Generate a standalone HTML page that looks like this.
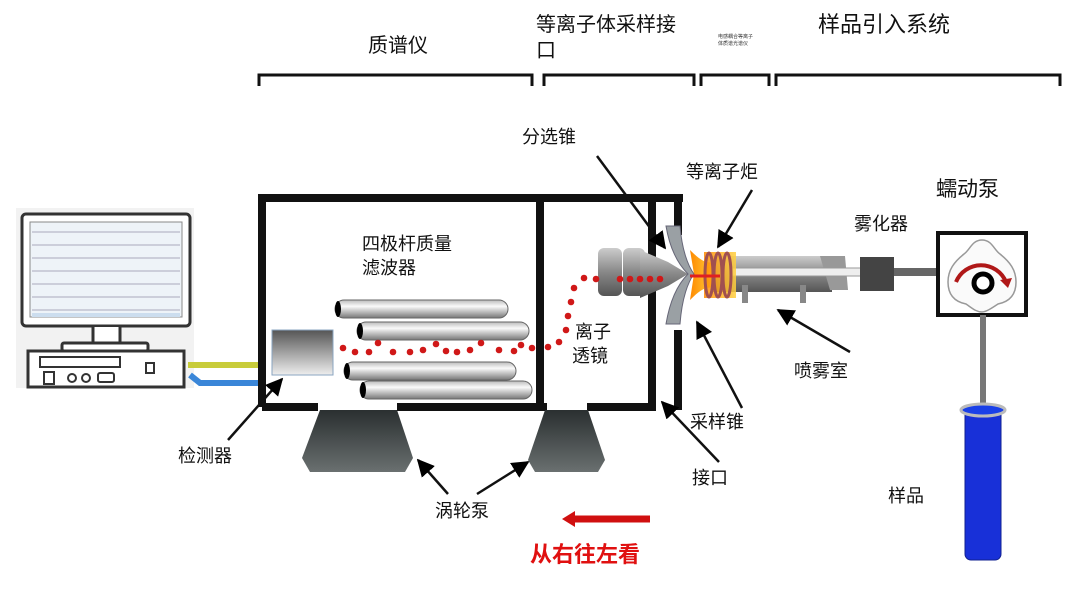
<!DOCTYPE html>
<html><head><meta charset="utf-8"><style>
html,body{margin:0;padding:0;background:#fff;}
svg{display:block;font-family:"Liberation Sans","Noto Sans CJK SC",sans-serif;}
</style></head><body>
<svg width="1079" height="589" viewBox="0 0 1079 589" xmlns="http://www.w3.org/2000/svg">
<defs>
<linearGradient id="rod" x1="0" y1="0" x2="0" y2="1"><stop offset="0" stop-color="#bbb"/><stop offset="0.35" stop-color="#fafafa"/><stop offset="1" stop-color="#777"/></linearGradient>
<linearGradient id="det" x1="0" y1="0" x2="0" y2="1"><stop offset="0" stop-color="#555"/><stop offset="1" stop-color="#eee"/></linearGradient>
<linearGradient id="pump" x1="0" y1="0" x2="0" y2="1"><stop offset="0" stop-color="#2a2f30"/><stop offset="1" stop-color="#6a7070"/></linearGradient>
<linearGradient id="metal" x1="0" y1="0" x2="0" y2="1"><stop offset="0" stop-color="#ccc"/><stop offset="0.5" stop-color="#888"/><stop offset="1" stop-color="#555"/></linearGradient>
<linearGradient id="flame" x1="0" y1="0" x2="1" y2="0"><stop offset="0" stop-color="#ff8a00"/><stop offset="1" stop-color="#ffd040"/></linearGradient>
<marker id="ah" viewBox="0 0 10 10" refX="9" refY="5" markerWidth="7" markerHeight="7" orient="auto"><path d="M0,0L10,5L0,10z" fill="#000"/></marker>
</defs>

<g font-size="20" fill="#111">
<text x="368" y="52">质谱仪</text>
<text x="536" y="31">等离子体采样接</text>
<text x="536" y="57">口</text>
<text x="818" y="32" font-size="22">样品引入系统</text>
</g>
<text x="718" y="38" font-size="5" fill="#333">电感耦合等离子</text>
<text x="718" y="45" font-size="5" fill="#333">体质谱光谱仪</text>
<g fill="none" stroke="#111" stroke-width="3">
<path d="M259,86V75H532V86"/>
<path d="M544,86V75H694V86"/>
<path d="M701,86V75H769V86"/>
<path d="M776,86V75H1060V86"/>
</g>

<rect x="16" y="208" width="178" height="180" fill="#f2f2f2"/>
<rect x="22" y="214" width="168" height="112" rx="4" fill="#fff" stroke="#333" stroke-width="3"/>
<rect x="30" y="222" width="152" height="95" fill="#eef3f8" stroke="#888"/>
<g stroke="#aab" stroke-width="1">
<line x1="32" y1="232" x2="180" y2="232"/><line x1="32" y1="245" x2="180" y2="245"/><line x1="32" y1="258" x2="180" y2="258"/><line x1="32" y1="271" x2="180" y2="271"/><line x1="32" y1="284" x2="180" y2="284"/><line x1="32" y1="297" x2="180" y2="297"/><line x1="32" y1="310" x2="180" y2="310"/>
</g>
<rect x="32" y="313" width="148" height="4" fill="#cde"/>
<path d="M93,327V343H120V327" fill="#fff" stroke="#333" stroke-width="3"/>
<rect x="62" y="343" width="86" height="8" rx="2" fill="#fff" stroke="#333" stroke-width="3"/>
<rect x="28" y="351" width="156" height="36" fill="#fff" stroke="#333" stroke-width="3"/>
<rect x="40" y="357" width="80" height="10" fill="#fff" stroke="#333" stroke-width="2"/>
<rect x="44" y="372" width="10" height="12" fill="none" stroke="#333" stroke-width="2"/>
<circle cx="72" cy="378" r="4" fill="none" stroke="#333" stroke-width="2"/><circle cx="86" cy="378" r="4" fill="none" stroke="#333" stroke-width="2"/>
<rect x="98" y="373" width="16" height="9" rx="2" fill="none" stroke="#333" stroke-width="2"/>
<rect x="146" y="363" width="8" height="10" fill="none" stroke="#333" stroke-width="2"/>
<path d="M188,365H260" stroke="#c8cc3a" stroke-width="6"/>
<path d="M190,375L200,383H260" stroke="#3a86d8" stroke-width="6" fill="none"/>

<g fill="none" stroke="#111" stroke-width="8">
<path d="M262,407V198H683"/>
<path d="M262,407H318M397,407H547M587,407H652V198"/>
<path d="M540,198V407"/>
<path d="M678,198V235M678,330V410"/>
</g>
<path d="M320,410H397L413,458L405,472H310L302,458Z" fill="url(#pump)"/>
<path d="M545,410H588L605,460L598,472H535L528,460Z" fill="url(#pump)"/>
<rect x="272" y="330" width="61" height="45" fill="url(#det)" stroke="#8aa4c0"/>
<g stroke="#666" stroke-width="1">
<rect x="335" y="300" width="173" height="18" rx="9" fill="url(#rod)"/>
<rect x="357" y="322" width="172" height="18" rx="9" fill="url(#rod)"/>
<rect x="344" y="362" width="172" height="18" rx="9" fill="url(#rod)"/>
<rect x="360" y="381" width="172" height="18" rx="9" fill="url(#rod)"/>
</g>
<g fill="#000"><ellipse cx="338" cy="309" rx="3" ry="8"/><ellipse cx="360" cy="331" rx="3" ry="8"/><ellipse cx="347" cy="371" rx="3" ry="8"/><ellipse cx="363" cy="390" rx="3" ry="8"/></g>
<rect x="598" y="248" width="24" height="48" rx="6" fill="url(#metal)"/>
<rect x="623" y="248" width="22" height="48" rx="6" fill="url(#metal)"/>
<path d="M640,250L668,262L688,274L668,286L640,298Z" fill="url(#metal)"/>
<path d="M690,250C700,260,706,264,714,262V288C706,286,700,290,690,300L694,274Z" fill="url(#flame)"/>
<path d="M666,226L680,226C682,250,688,266,694,274C688,282,682,298,680,324L666,324C670,300,678,284,688,274C678,264,670,250,666,226Z" fill="#9aa0a4" stroke="#667"/>
<rect x="712" y="256" width="120" height="36" fill="url(#metal)"/>
<path d="M820,256H845L848,290H830Z" fill="#999"/>
<rect x="742" y="285" width="6" height="18" fill="#888"/><rect x="800" y="285" width="6" height="18" fill="#888"/>
<rect x="732" y="268" width="130" height="8" fill="#eee" stroke="#999"/>
<rect x="704" y="252" width="32" height="46" fill="url(#flame)" opacity="0.85"/>
<g fill="none" stroke="#a05050" stroke-width="3">
<ellipse cx="709" cy="275" rx="4" ry="22"/><ellipse cx="718" cy="275" rx="4" ry="22"/><ellipse cx="727" cy="275" rx="4" ry="22"/>
</g>
<line x1="690" y1="276" x2="720" y2="276" stroke="#e02020" stroke-width="3"/>
<rect x="860" y="257" width="34" height="34" fill="#444"/>
<rect x="894" y="268" width="42" height="8" fill="#666"/>
<rect x="938" y="233" width="88" height="82" fill="#fff" stroke="#111" stroke-width="4"/>
<path d="M982,240C992,240,994,250,1000,254C1010,262,1016,270,1016,282C1016,296,1008,302,998,304C992,308,986,312,982,312C976,312,972,308,966,304C956,302,948,296,948,282C948,270,954,262,964,254C970,250,972,240,982,240Z" fill="#fafafa" stroke="#999" stroke-width="1.5"/>
<path d="M956,282A27,27 0 0 1 1006,282" fill="none" stroke="#b01818" stroke-width="4"/>
<path d="M1000,280L1008,288L1012,278Z" fill="#b01818"/>
<circle cx="983" cy="283" r="9" fill="#fff" stroke="#000" stroke-width="5"/>
<rect x="980" y="315" width="6" height="92" fill="#777"/>
<rect x="965" y="408" width="36" height="152" rx="6" fill="#1830d8" stroke="#102090"/>
<ellipse cx="983" cy="410" rx="22" ry="6" fill="#1a40e8" stroke="#bbb" stroke-width="3"/>

<g fill="#d01818">
<circle cx="343" cy="348" r="3.3"/><circle cx="355" cy="352" r="3.3"/><circle cx="369" cy="352" r="3.3"/><circle cx="378" cy="343" r="3.3"/><circle cx="393" cy="352" r="3.3"/><circle cx="410" cy="352" r="3.3"/><circle cx="423" cy="350" r="3.3"/><circle cx="436" cy="344" r="3.3"/><circle cx="446" cy="351" r="3.3"/><circle cx="457" cy="352" r="3.3"/><circle cx="470" cy="350" r="3.3"/><circle cx="481" cy="343" r="3.3"/><circle cx="499" cy="350" r="3.3"/><circle cx="514" cy="351" r="3.3"/><circle cx="521" cy="345" r="3.3"/><circle cx="532" cy="348" r="3.3"/><circle cx="548" cy="347" r="3.3"/><circle cx="559" cy="342" r="3.3"/><circle cx="566" cy="330" r="3.3"/><circle cx="568" cy="316" r="3.3"/><circle cx="571" cy="302" r="3.3"/><circle cx="574" cy="288" r="3.3"/><circle cx="584" cy="278" r="3.3"/><circle cx="596" cy="279" r="3.3"/><circle cx="620" cy="279" r="3.3"/><circle cx="630" cy="279" r="3.3"/><circle cx="640" cy="279" r="3.3"/><circle cx="650" cy="279" r="3.3"/><circle cx="660" cy="279" r="3.3"/>
</g>

<g font-size="18" fill="#111">
<text x="362" y="250">四极杆质量</text>
<text x="362" y="274">滤波器</text>
<text x="575" y="338">离子</text>
<text x="572" y="362">透镜</text>
<text x="522" y="143">分选锥</text>
<text x="686" y="178">等离子炬</text>
<text x="854" y="230">雾化器</text>
<text x="936" y="196" font-size="21">蠕动泵</text>
<text x="794" y="377">喷雾室</text>
<text x="690" y="428">采样锥</text>
<text x="692" y="484">接口</text>
<text x="178" y="462">检测器</text>
<text x="435" y="517">涡轮泵</text>
<text x="888" y="502">样品</text>
</g>
<text x="530" y="562" font-size="22" font-weight="bold" fill="#e01010">从右往左看</text>
<path d="M650,519H575" stroke="#d01010" stroke-width="7"/>
<path d="M575,511L562,519L575,527Z" fill="#d01010"/>

<g stroke="#111" stroke-width="2.5" fill="none" marker-end="url(#ah)">
<line x1="597" y1="156" x2="665" y2="248"/>
<line x1="752" y1="190" x2="718" y2="247"/>
<line x1="850" y1="352" x2="778" y2="310"/>
<line x1="742" y1="408" x2="697" y2="322"/>
<line x1="719" y1="462" x2="662" y2="402"/>
<line x1="228" y1="440" x2="282" y2="379"/>
<line x1="448" y1="494" x2="418" y2="460"/>
<line x1="477" y1="494" x2="528" y2="462"/>
</g>
</svg>
</body></html>
